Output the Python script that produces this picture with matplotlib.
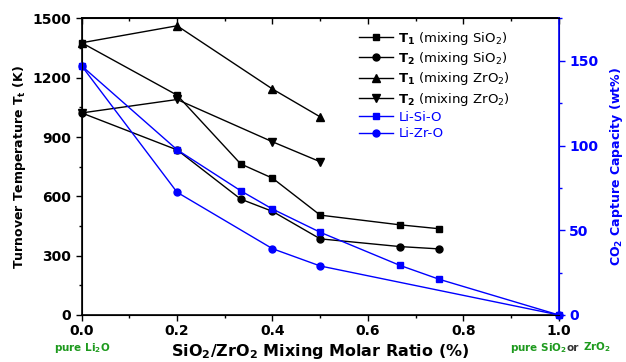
import matplotlib
matplotlib.use("Agg")
import matplotlib.pyplot as plt
from matplotlib.ticker import MultipleLocator

plt.rcParams['font.family'] = ['DejaVu Sans']
plt.rcParams['mathtext.fontset'] = 'dejavusans'

# Data
x_si = [0.0, 0.2, 1/3, 0.4, 0.5, 2/3, 0.75]
t1_si = [1377, 1112, 764, 692, 505, 456, 436]
t2_si = [1022, 835, 586, 524, 385, 346, 334]
x_zr = [0.0, 0.2, 0.4, 0.5]
t1_zr = [1377, 1463, 1143, 1002]
t2_zr = [1022, 1090, 876, 775]
x_lisio = [0.0, 0.2, 1/3, 0.4, 0.5, 2/3, 0.75, 1.0]
cap_lisio = [147, 97.5, 73.3, 62.5, 48.8, 29.3, 21, 0]
x_lizro = [0.0, 0.2, 0.4, 0.5, 1.0]
cap_lizro = [147, 72.4, 39.1, 28.9, 0]

xticks = [0.0, 0.2, 0.4, 0.6, 0.8, 1.0]
yticks = [0, 300, 600, 900, 1200, 1500]
y2ticks = [0, 50, 100, 150]

blue = '#0000ff'
green = '#1e9a1e'

fig = plt.figure(figsize=(6.26, 3.62), dpi=100)
ax = fig.add_axes([0.1305, 0.130, 0.762, 0.819])
ax2 = ax.twinx()

ms = 5
h1, = ax.plot(x_si, t1_si, 'k-s', lw=1, ms=ms, label=r'$\mathbf{T_1}$ (mixing SiO$_2$)')
h2, = ax.plot(x_si, t2_si, 'k-o', lw=1, ms=ms, label=r'$\mathbf{T_2}$ (mixing SiO$_2$)')
h3, = ax.plot(x_zr, t1_zr, 'k-^', lw=1, ms=ms+0.5, label=r'$\mathbf{T_1}$ (mixing ZrO$_2$)')
h4, = ax.plot(x_zr, t2_zr, 'k-v', lw=1, ms=ms+0.5, label=r'$\mathbf{T_2}$ (mixing ZrO$_2$)')
h5, = ax2.plot(x_lisio, cap_lisio, '-s', color=blue, lw=1, ms=ms, label='Li-Si-O', clip_on=False)
h6, = ax2.plot(x_lizro, cap_lizro, '-o', color=blue, lw=1, ms=ms, label='Li-Zr-O', clip_on=False)
for h in (h1, h2, h3, h4):
    h.set_clip_on(False)

ax.set_xlim(0, 1.0)
ax.set_ylim(0, 1500)
ax2.set_ylim(0, 175)

ax.set_xticks(xticks)
ax.set_xticklabels([f'{v:.1f}' for v in xticks], fontweight='bold')
ax.xaxis.set_minor_locator(MultipleLocator(0.1))
ax.set_yticks(yticks)
ax.set_yticklabels([str(v) for v in yticks], fontweight='bold')
ax.yaxis.set_minor_locator(MultipleLocator(150))

ax.tick_params(axis='both', which='both', direction='out', width=1)
ax.tick_params(axis='both', which='major', length=4, labelsize=10)
ax.tick_params(axis='x', which='major', pad=2.5)
ax.tick_params(axis='both', which='minor', length=2.5)

# top axis with inward ticks
top = ax.secondary_xaxis('top')
top.set_xticks(xticks)
top.xaxis.set_minor_locator(MultipleLocator(0.1))
top.tick_params(axis='x', which='both', direction='in', labeltop=False, width=1)
top.tick_params(axis='x', which='major', length=4)
top.tick_params(axis='x', which='minor', length=2.5)
top.spines['top'].set_linewidth(1.2)

ax2.set_yticks(y2ticks)
ax2.set_yticklabels([str(v) for v in y2ticks], fontweight='bold', color=blue)
ax2.yaxis.set_minor_locator(MultipleLocator(25))
ax2.tick_params(axis='y', which='both', direction='out', colors=blue, width=1)
ax2.tick_params(axis='y', which='major', length=4, labelsize=10)
ax2.tick_params(axis='y', which='minor', length=2.5)
ax2.spines['right'].set_color(blue)
ax2.spines['right'].set_linewidth(1.2)
for s in ['left', 'bottom', 'top']:
    ax.spines[s].set_linewidth(1.2)

ax.set_ylabel(r'Turnover Temperature T$_\mathbf{t}$ (K)', fontsize=9, fontweight='bold', labelpad=3)
ax2.set_ylabel(r'CO$_\mathbf{2}$ Capture Capacity (wt%)', fontsize=9, fontweight='bold', color=blue, labelpad=7)
ax.set_xlabel(r'SiO$_\mathbf{2}$/ZrO$_\mathbf{2}$ Mixing Molar Ratio (%)', fontsize=11.5, fontweight='bold', labelpad=3)

leg = ax.legend(handles=[h1, h2, h3, h4, h5, h6], loc='upper left', bbox_to_anchor=(0.57, 0.98),
                frameon=False, fontsize=9.5, handlelength=2.6, handletextpad=0.4, labelspacing=0.25,
                borderaxespad=0)
for txt, h in zip(leg.get_texts(), [h1, h2, h3, h4, h5, h6]):
    if h in (h5, h6):
        txt.set_color(blue)

# green annotations
fs_g = 7.5
yg = 0.04
fig.text(0.131, yg, r'pure Li$_\mathbf{2}$O', color=green, fontsize=fs_g, fontweight='bold', ha='center', va='center')
fig.text(0.815, yg, r'pure SiO$_\mathbf{2}$', color=green, fontsize=fs_g, fontweight='bold', ha='left', va='center')
fig.text(0.905, yg, 'or', color='#333333', fontsize=fs_g, fontweight='bold', ha='left', va='center')
fig.text(0.931, yg, r'ZrO$_\mathbf{2}$', color=green, fontsize=fs_g, fontweight='bold', ha='left', va='center')

fig.savefig('out.png', dpi=100)
